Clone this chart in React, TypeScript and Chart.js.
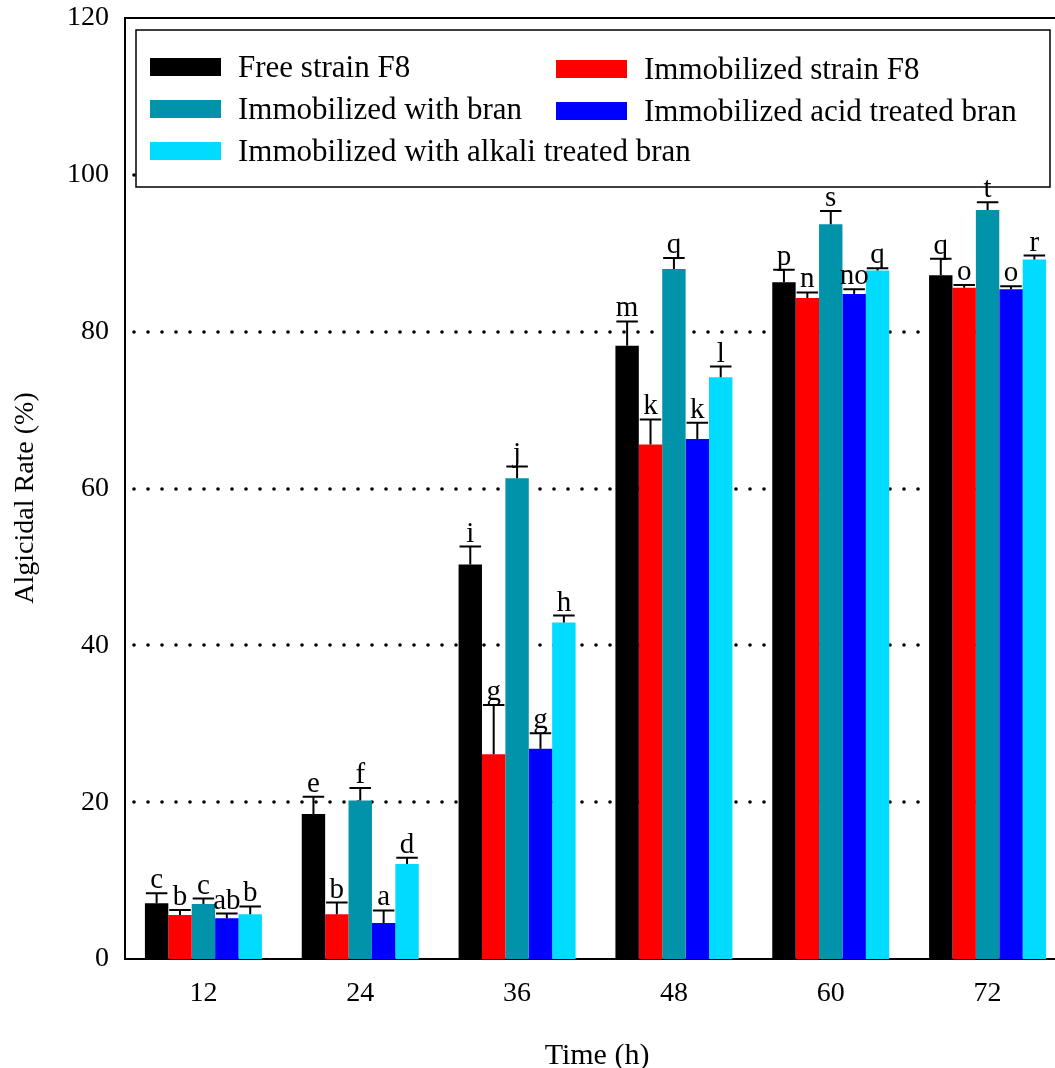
import React, { useEffect, useRef } from 'react';
import { Chart, registerables } from 'chart.js';

Chart.register(...registerables);

const FONT = '"Liberation Serif", "Times New Roman", serif';

const categories = ['12', '24', '36', '48', '60', '72'];

const seriesNames = [
  'Free strain F8',
  'Immobilized strain F8',
  'Immobilized with bran',
  'Immobilized acid treated bran',
  'Immobilized with alkali treated bran',
];
const seriesColors = ['#000000', '#FF0000', '#0093A9', '#0000FF', '#00DCFF'];

const freeF8 = [7.1, 18.5, 50.3, 78.2, 86.3, 87.2];
const freeF8Err = [1.3, 2.2, 2.3, 3.1, 1.6, 2.1];
const freeF8Letters = ['c', 'e', 'i', 'm', 'p', 'q'];

const immobF8 = [5.6, 5.7, 26.1, 65.6, 84.3, 85.6];
const immobF8Err = [0.65, 1.5, 6.3, 3.2, 0.7, 0.35];
const immobF8Letters = ['b', 'b', 'g', 'k', 'n', 'o'];

const withBran = [7.0, 20.2, 61.3, 88.0, 93.7, 95.5];
const withBranErr = [0.7, 1.6, 1.5, 1.4, 1.7, 1.0];
const withBranLetters = ['c', 'f', 'j', 'q', 's', 't'];

const acidBran = [5.2, 4.6, 26.8, 66.3, 84.8, 85.4];
const acidBranErr = [0.6, 1.6, 2.0, 2.1, 0.6, 0.4];
const acidBranLetters = ['ab', 'a', 'g', 'k', 'no', 'o'];

const alkaliBran = [5.7, 12.1, 42.9, 74.2, 87.8, 89.2];
const alkaliBranErr = [1.0, 0.8, 0.9, 1.35, 0.3, 0.5];
const alkaliBranLetters = ['b', 'd', 'h', 'l', 'q', 'r'];

const yMin = 0;
const yMax = 120;
const yStep = 20;
const gridValues = [20, 40, 60, 80, 100];

const xTitle = 'Time (h)';
const yTitle = 'Algicidal Rate (%)';

const seriesValues = [freeF8, immobF8, withBran, acidBran, alkaliBran];
const seriesErrors = [freeF8Err, immobF8Err, withBranErr, acidBranErr, alkaliBranErr];
const seriesLetters = [freeF8Letters, immobF8Letters, withBranLetters, acidBranLetters, alkaliBranLetters];

const dotGridAndLegend = {
  id: 'dotGridAndLegend',
  beforeDatasetsDraw(chart: any) {
    const { ctx, scales } = chart;
    const left = scales.x.left;
    const right = 1080;
    ctx.save();
    ctx.fillStyle = '#000';
    gridValues.forEach((v) => {
      const y = Math.round(scales.y.getPixelForValue(v));
      for (let x = left + 9; x <= right; x += 14) {
        ctx.beginPath();
        ctx.arc(x, y, 1.8, 0, Math.PI * 2);
        ctx.fill();
      }
    });
    ctx.restore();

    // legend box
    ctx.save();
    ctx.fillStyle = '#fff';
    ctx.fillRect(136, 30, 914, 157);
    ctx.strokeStyle = '#000';
    ctx.lineWidth = 1.5;
    ctx.strokeRect(136, 30, 914, 157);
    ctx.font = `31px ${FONT}`;
    ctx.textBaseline = 'alphabetic';
    ctx.textAlign = 'left';
    chart.data.datasets.forEach((ds: any, k: number) => {
      const row = Math.floor(k / 2);
      const col = k % 2;
      const x = col === 0 ? 150 : 556;
      const base = 77 + row * 42 + col * 2;
      ctx.fillStyle = ds.backgroundColor;
      ctx.fillRect(x, base - 19, 71, 18);
      ctx.fillStyle = '#000';
      ctx.fillText(ds.label, x + 88, base);
    });
    ctx.restore();
  },
  afterDatasetsDraw(chart: any) {
    const { ctx, scales } = chart;
    ctx.save();
    ctx.strokeStyle = '#000';
    ctx.fillStyle = '#000';
    ctx.lineWidth = 2;
    ctx.font = `29px ${FONT}`;
    ctx.textAlign = 'center';
    ctx.textBaseline = 'alphabetic';
    chart.data.datasets.forEach((ds: any, i: number) => {
      const meta = chart.getDatasetMeta(i);
      meta.data.forEach((el: any, j: number) => {
        const v = ds.data[j];
        const e = ds.errors[j];
        const yBar = scales.y.getPixelForValue(v);
        const yTop = scales.y.getPixelForValue(v + e);
        const half = el.width * 0.46;
        ctx.beginPath();
        ctx.moveTo(el.x, yBar);
        ctx.lineTo(el.x, yTop);
        ctx.moveTo(el.x - half, yTop);
        ctx.lineTo(el.x + half, yTop);
        ctx.stroke();
        ctx.fillText(ds.letters[j], el.x, yTop - 5);
      });
    });
    ctx.restore();
  },
  afterDraw(chart: any) {
    const { ctx, scales } = chart;
    ctx.save();
    ctx.strokeStyle = '#000';
    ctx.lineWidth = 2;
    ctx.beginPath();
    ctx.moveTo(scales.x.left, scales.y.top);
    ctx.lineTo(1080, scales.y.top);
    ctx.stroke();

    ctx.fillStyle = '#000';
    ctx.font = `30px ${FONT}`;
    ctx.textAlign = 'center';
    ctx.textBaseline = 'alphabetic';
    ctx.fillText(xTitle, 597, 1064);

    ctx.font = `28px ${FONT}`;
    ctx.translate(33, 498);
    ctx.rotate(-Math.PI / 2);
    ctx.textBaseline = 'alphabetic';
    ctx.fillText(yTitle, 0, 0);
    ctx.restore();
  },
};

export default function App() {
  const ref = useRef<HTMLCanvasElement | null>(null);

  useEffect(() => {
    if (!ref.current) return;
    const chart = new Chart(ref.current, {
      type: 'bar',
      data: {
        labels: categories,
        datasets: seriesNames.map((name, i) => ({
          label: name,
          data: seriesValues[i],
          errors: seriesErrors[i],
          letters: seriesLetters[i],
          backgroundColor: seriesColors[i],
          borderWidth: 0,
          categoryPercentage: 0.746,
          barPercentage: 1,
        })) as any,
      },
      options: {
        animation: false,
        responsive: false,
        devicePixelRatio: 1,
        layout: { padding: { left: 0, top: 18, right: 14, bottom: 0 } },
        plugins: {
          legend: { display: false },
          tooltip: { enabled: false },
          title: { display: false },
        },
        scales: {
          x: {
            grid: { display: false, drawTicks: false },
            border: { display: true, color: '#000', width: 2 },
            ticks: {
              color: '#000',
              font: { family: FONT, size: 28 },
              padding: 18,
              maxRotation: 0,
            },
            afterFit: (scale: any) => {
              scale.height = 109;
              scale.paddingLeft = 0;
              scale.paddingRight = 0;
            },
          },
          y: {
            min: yMin,
            max: yMax,
            grid: { display: false, drawTicks: false },
            border: { display: true, color: '#000', width: 2 },
            ticks: {
              stepSize: yStep,
              color: '#000',
              font: { family: FONT, size: 28 },
              padding: 16,
            },
            afterFit: (scale: any) => {
              scale.width = 125;
              scale.paddingTop = 0;
              scale.paddingBottom = 0;
            },
          },
        },
      },
      plugins: [dotGridAndLegend],
    });
    return () => chart.destroy();
  }, []);

  return (
    <div
      style={{
        position: 'fixed',
        left: 0,
        top: 0,
        width: 1055,
        height: 1068,
        overflow: 'hidden',
        background: '#fff',
      }}
    >
      <canvas ref={ref} width={1080} height={1068} style={{ display: 'block' }} />
    </div>
  );
}
